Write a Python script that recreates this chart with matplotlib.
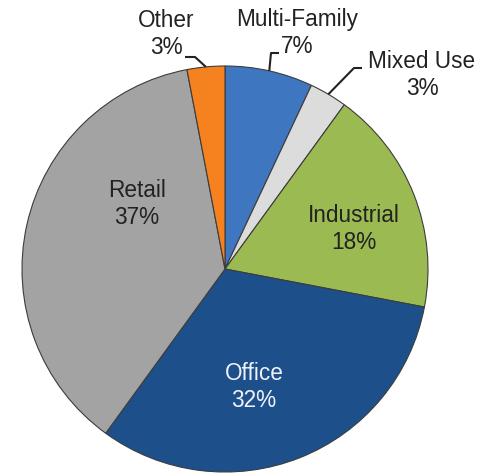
import numpy as np
import matplotlib
matplotlib.use("Agg")
import matplotlib.pyplot as plt

plt.rcParams["font.family"] = ["Liberation Sans", "DejaVu Sans"]

# data, clockwise from 12 o'clock
labels = ["Multi-Family", "Mixed Use", "Industrial", "Office", "Retail", "Other"]
shares = [7, 3, 18, 32, 37, 3]
colors = ["#3e76c0", "#dcdcdc", "#9bbb52", "#1d4f8a", "#a3a3a3", "#f5821f"]

W, H = 490, 473
CX, CY, R = 225, 204, 203

fig = plt.figure(figsize=(W / 100, H / 100), dpi=100)
ax = fig.add_axes([0, 0, 1, 1])
wedges, _ = ax.pie(shares, colors=colors, startangle=90, counterclock=False,
                   center=(CX, CY), radius=R,
                   wedgeprops=dict(edgecolor="#3c3c3c", linewidth=0.8))
ax.set_xlim(0, W); ax.set_ylim(0, H)
ax.set_aspect("equal"); ax.axis("off")

# label placement (pixel coords of this canvas), inside labels have no leader
inside = {"Retail": (137, 269, "#222222"),
          "Industrial": (354, 244, "#222222"),
          "Office": (254, 86, "#eef2f8")}
# outside: text centre, elbow start, elbow end
outside = {"Other": ((166, 439), (185, 416), (195, 416)),
           "Multi-Family": ((297, 440), (279, 420), (271, 420)),
           "Mixed Use": ((422, 398), (362, 405), (354, 405))}

for w, lab, v in zip(wedges, labels, shares):
    txt = f"{lab}\n{v}%"
    if lab in inside:
        x, y, c = inside[lab]
        ax.text(x, y, txt, ha="center", va="center", fontsize=16.3, color=c,
                linespacing=1.22)
    else:
        (tx, ty), p0, p1 = outside[lab]
        th = np.deg2rad((w.theta1 + w.theta2) / 2)
        ax_, ay_ = CX + R * np.cos(th), CY + R * np.sin(th)
        ax.plot([p0[0], p1[0], ax_], [p0[1], p1[1], ay_], color="#222222", lw=1.5,
                solid_capstyle="butt")
        ax.text(tx, ty, txt, ha="center", va="center", fontsize=16.3, color="#222222",
                linespacing=1.22)

fig.savefig("out.png", dpi=100, facecolor="white")
